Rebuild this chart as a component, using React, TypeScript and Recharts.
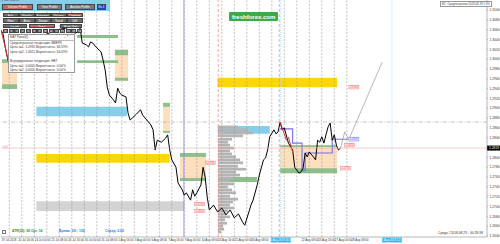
import React from "react";
import {
  ComposedChart,
  Line,
  XAxis,
  YAxis,
  ReferenceArea,
  ReferenceLine,
  Scatter,
} from "recharts";

// H4 bar index (t) and close price (p)
const closes = [
  { t: 0, p: 1.3059 }, { t: 1, p: 1.3051 }, { t: 2, p: 1.3025 }, { t: 3, p: 1.3004 }, { t: 4, p: 1.2988 },
  { t: 7, p: 1.3008 }, { t: 12, p: 1.3029 }, { t: 16, p: 1.3039 }, { t: 21, p: 1.3049 }, { t: 26, p: 1.3059 },
  { t: 31, p: 1.3063 }, { t: 34, p: 1.3055 }, { t: 36, p: 1.3053 }, { t: 38, p: 1.3063 }, { t: 39, p: 1.3033 },
  { t: 41, p: 1.3029 }, { t: 42, p: 1.3025 }, { t: 43, p: 1.3035 }, { t: 44, p: 1.3033 }, { t: 46, p: 1.3023 },
  { t: 48, p: 1.3015 }, { t: 49, p: 1.2998 }, { t: 50, p: 1.2978 }, { t: 51, p: 1.2943 }, { t: 52, p: 1.2927 },
  { t: 54, p: 1.2917 }, { t: 55, p: 1.2911 }, { t: 56, p: 1.2941 }, { t: 57, p: 1.2931 }, { t: 58, p: 1.2927 },
  { t: 60, p: 1.2923 }, { t: 61, p: 1.289 }, { t: 62, p: 1.2876 }, { t: 63, p: 1.288 }, { t: 65, p: 1.2888 },
  { t: 67, p: 1.2897 }, { t: 68, p: 1.2886 }, { t: 70, p: 1.2876 }, { t: 72, p: 1.2866 }, { t: 73, p: 1.2856 },
  { t: 74, p: 1.2815 }, { t: 75, p: 1.2835 }, { t: 77, p: 1.2831 }, { t: 79, p: 1.2839 }, { t: 80, p: 1.2846 },
  { t: 81, p: 1.2815 }, { t: 82, p: 1.2795 }, { t: 84, p: 1.278 }, { t: 85, p: 1.2748 }, { t: 87, p: 1.2734 },
  { t: 88, p: 1.2723 }, { t: 89, p: 1.2728 }, { t: 91, p: 1.2713 }, { t: 92, p: 1.2734 }, { t: 93, p: 1.2721 },
  { t: 94, p: 1.2728 }, { t: 96, p: 1.2744 }, { t: 97, p: 1.278 }, { t: 98, p: 1.276 }, { t: 99, p: 1.2719 },
  { t: 100, p: 1.2693 }, { t: 102, p: 1.2703 }, { t: 104, p: 1.2689 }, { t: 106, p: 1.2697 }, { t: 108, p: 1.2683 },
  { t: 110, p: 1.2693 }, { t: 112, p: 1.2677 }, { t: 114, p: 1.2685 }, { t: 116, p: 1.2668 }, { t: 117, p: 1.2662 },
  { t: 119, p: 1.2689 }, { t: 120, p: 1.2703 }, { t: 121, p: 1.2713 }, { t: 123, p: 1.2744 }, { t: 124, p: 1.2764 },
  { t: 126, p: 1.2795 }, { t: 127, p: 1.2799 }, { t: 128, p: 1.2815 }, { t: 129, p: 1.2842 }, { t: 131, p: 1.2856 },
  { t: 132, p: 1.2848 }, { t: 133, p: 1.2852 }, { t: 134, p: 1.2872 }, { t: 135, p: 1.2856 }, { t: 136, p: 1.286 },
  { t: 138, p: 1.2829 }, { t: 140, p: 1.2815 }, { t: 141, p: 1.278 }, { t: 143, p: 1.2768 }, { t: 144, p: 1.277 },
  { t: 145, p: 1.2778 }, { t: 146, p: 1.2809 }, { t: 147, p: 1.2801 }, { t: 148, p: 1.2811 }, { t: 150, p: 1.2801 },
  { t: 151, p: 1.2795 }, { t: 152, p: 1.2835 }, { t: 153, p: 1.2831 }, { t: 154, p: 1.2842 }, { t: 155, p: 1.2829 },
  { t: 156, p: 1.2846 }, { t: 157, p: 1.2862 }, { t: 158, p: 1.287 }, { t: 159, p: 1.2835 }, { t: 160, p: 1.2846 },
  { t: 161, p: 1.2825 }, { t: 162, p: 1.2815 }, { t: 163, p: 1.2819 },
];

// forecast path drawn after the last bar
const forecast = [
  { t: 163, p: 1.2819 }, { t: 165, p: 1.2852 }, { t: 167, p: 1.2837 }, { t: 183, p: 1.2994 },
];

// red zigzag pieces
const zigzagA = [{ t: 0, p: 1.3059 }, { t: 2, p: 1.3025 }, { t: 4, p: 1.2988 }];
const zigzagB = [{ t: 134, p: 1.2872 }, { t: 137, p: 1.2835 }, { t: 138, p: 1.2841 }, { t: 140, p: 1.2811 }];

// blue step line
const stepLine = [
  { t: 134, p: 1.2858 }, { t: 140, p: 1.2858 }, { t: 140, p: 1.2829 }, { t: 144.5, p: 1.2829 },
  { t: 144.5, p: 1.2774 }, { t: 146, p: 1.2774 }, { t: 146, p: 1.2809 }, { t: 159, p: 1.2809 },
  { t: 159, p: 1.2837 }, { t: 166.6, p: 1.2837 },
];

// flat zones
const blueZones = [
  { from: 17, to: 60.5, hi: 1.2903, lo: 1.2884 },
  { from: 104, to: 129, hi: 1.2864, lo: 1.2848 },
];
const goldZones = [
  { from: 17, to: 81, hi: 1.2807, lo: 1.2789 },
  { from: 104, to: 161.3, hi: 1.2962, lo: 1.2943 },
];
const grayZones = [{ from: 17, to: 88, hi: 1.2711, lo: 1.2691 }];
const greenStrips = [
  { from: 36.5, to: 56.2, hi: 1.3049, lo: 1.3043 },
  { from: 36.5, to: 56.2, hi: 1.2998, lo: 1.2992 },
  { from: 104.2, to: 122.9, hi: 1.276, lo: 1.275 },
];
// boxes with edges: hi/lo outer, hiEdge/loEdge inner
const boxes = [
  { from: 0.5, to: 7.7, hi: 1.3, hiEdge: 1.2992, loEdge: 1.2949, lo: 1.2939 },
  { from: 54.7, to: 61, hi: 1.3019, hiEdge: 1.3008, loEdge: 1.2962, lo: 1.2956 },
  { from: 77.8, to: 81.1, hi: 1.2911, hiEdge: 1.2903, loEdge: 1.2854, lo: 1.285 },
  { from: 85.9, to: 98.4, hi: 1.2809, hiEdge: 1.2801, loEdge: 1.2758, lo: 1.2752 },
  { from: 134, to: 161.3, hi: 1.2825, hiEdge: 1.2821, loEdge: 1.2778, lo: 1.2768 },
];

// volume profile starting at bar 104.2
const profileStart = 104.2;
const profileLevels = [
  1.2862, 1.2856, 1.285, 1.2844, 1.2837, 1.2831, 1.2825, 1.2819, 1.2813, 1.2807, 1.2801, 1.2795,
  1.2789, 1.2782, 1.2776, 1.277, 1.2764, 1.2758, 1.2752, 1.2746, 1.274, 1.2734, 1.2728, 1.2721,
  1.2715, 1.2709, 1.2703, 1.2697, 1.2691, 1.2685, 1.2679, 1.2673, 1.2666, 1.266, 1.2654, 1.2648,
];
const profileVol = [
  20, 30, 35, 25, 14, 10, 12, 16, 12, 14, 18, 22, 25, 20, 28, 18, 22, 15, 12, 16, 10, 14, 18, 12,
  20, 15, 12, 16, 10, 8, 12, 7, 9, 5, 6, 3,
];

// price tags
const tags = [
  { t: 98, p: 1.2789, text: "1.2789", blue: false },
  { t: 93, p: 1.2705, text: "1.2705", blue: false },
  { t: 93, p: 1.2691, text: "1.2691", blue: false },
  { t: 167, p: 1.2943, text: "1.2943", blue: false },
  { t: 165, p: 1.2825, text: "1.2825", blue: false },
  { t: 163, p: 1.2778, text: "1.2778", blue: false },
  { t: 167, p: 1.2837, text: "1.2837", blue: true },
];

// vertical markers
const markers = [
  { t: 87.8, kind: "blue" },
  { t: 104.3, kind: "red" },
  { t: 133.6, kind: "red" },
  { t: 134.3, kind: "cyan", label: "20 Aug 2018 16:00" },
  { t: 187.7, kind: "cyan", label: "31 Aug 2018 12:00" },
];

const currentPrice = 1.2819;
const pivotLevel = 1.2872;

// 1.2820 sits under the current price box
const priceTicks = [
  1.31, 1.308, 1.306, 1.304, 1.302, 1.3, 1.298, 1.296, 1.294, 1.292, 1.29, 1.288,
  1.286, 1.284, 1.28, 1.278, 1.276, 1.274, 1.272, 1.27, 1.268, 1.266, 1.264,
];
// the ticks at bars 128 and 136 sit under the cyan date box
const timeTicks = [0, 8, 16, 24, 32, 40, 48, 56, 64, 72, 80, 88, 96, 104, 112, 120, 144, 152, 160, 168];
const timeLabels = [
  "19 Jul 2018", "20 Jul 16:00", "24 Jul 00:00", "25 Jul 08:00", "26 Jul 16:00", "30 Jul 00:00",
  "31 Jul 08:00", "1 Aug 16:00", "3 Aug 00:00", "6 Aug 08:00", "7 Aug 16:00", "9 Aug 00:00",
  "10 Aug 08:00", "13 Aug 16:00", "15 Aug 00:00", "16 Aug 08:00",
  "22 Aug 08:00", "23 Aug 16:00", "27 Aug 00:00", "28 Aug 08:00",
];
// day separators
const daySeps = Array.from({ length: 28 }, (_, k) => 4 + 6 * k);

const FONT = "'Liberation Sans', Arial, sans-serif";
const PEACH = "#FDDFBE";
const GREEN = "#8DBF8B";

const XTick = (props: any) => {
  const { x, y, payload } = props;
  const i = timeTicks.indexOf(payload.value);
  return (
    <text x={x + 0.5} y={y + 3.6} fontSize={2.9} fill="#333" fontFamily={FONT} textAnchor="start">
      {timeLabels[i]}
    </text>
  );
};

const YTick = (props: any) => {
  const { x, y, payload } = props;
  return (
    <text x={x} y={y + 1.2} fontSize={3.3} fill="#333" fontFamily={FONT} textAnchor="start">
      {payload.value.toFixed(4)}
    </text>
  );
};

const TagShape = (props: any) => {
  const { cx, cy, payload } = props;
  const stroke = payload.blue ? "#6A6AF0" : "#F06A6A";
  const fill = payload.blue ? "#E4E4FF" : "#FFE2E2";
  return (
    <g>
      <rect x={cx} y={cy - 1.8} width={10} height={3.6} fill={fill} stroke={stroke} strokeWidth={0.4} />
      <text x={cx + 5} y={cy + 1} fontSize={2.6} textAnchor="middle" fill={stroke} fontFamily={FONT}>
        {payload.text}
      </text>
    </g>
  );
};

const CurrentTag = (props: any) => {
  const { viewBox } = props;
  const x = viewBox.x + viewBox.width;
  return (
    <g>
      <rect x={x} y={viewBox.y - 2.5} width={13} height={5} fill="#000" />
      <text x={x + 2} y={viewBox.y + 1.2} fontSize={3.3} fill="#fff" fontFamily={FONT}>
        {currentPrice.toFixed(4)}
      </text>
    </g>
  );
};

const DateTag = (text: string) => (props: any) => {
  const { viewBox } = props;
  const y = viewBox.y + viewBox.height + 0.6;
  return (
    <g>
      <rect x={viewBox.x - 10} y={y} width={20} height={4.8} fill="#29B6F6" />
      <text x={viewBox.x} y={y + 3.5} fontSize={2.8} fill="#fff" textAnchor="middle" fontFamily={FONT}>
        {text}
      </text>
    </g>
  );
};

const markerStyle: Record<string, any> = {
  blue: { stroke: "#8C8CFF", strokeWidth: 0.8 },
  red: { stroke: "#FF8080", strokeWidth: 0.7, strokeDasharray: "3 2" },
  cyan: { stroke: "#7FD6F5", strokeWidth: 0.7, strokeDasharray: "1 1" },
};

const txt: React.CSSProperties = {
  position: "absolute",
  fontFamily: FONT,
  whiteSpace: "nowrap",
  lineHeight: 1,
};

const Btn = ({ x, y, w, h, bg, label }: any) => (
  <div
    style={{
      ...txt,
      left: x,
      top: y,
      width: w,
      height: h,
      background: bg,
      color: "#fff",
      fontSize: 3,
      lineHeight: `${h}px`,
      textAlign: "center",
      overflow: "hidden",
      boxSizing: "border-box",
      border: "0.5px solid #444",
    }}
  >
    {label}
  </div>
);

const Panel = () => {
  const rowA = ["Rels", "Weekly", "Extremes", "Volume", "Conform"];
  const rowB = ["Hour", "Area", "Zigzag", "Trend", "Diff"];
  const nums = ["1", "2", "3", "4", "5", "6", "7", "8", "9", "10", "11", "12", "13", "14"];
  const lines = [
    "Среднесрочная тенденция: ВВЕРХ",
    "Цель №1: 1.2935  Вероятность: 66.59%",
    "Цель №2: 1.3021  Вероятность: 64.49%",
    "",
    "Внутридневная тенденция: НЕТ",
    "Цель №1: 0.0000  Вероятность: 0.00%",
    "Цель №2: 0.0000  Вероятность: 0.00%",
  ];
  return (
    <>
      <div style={{ position: "absolute", left: 0, top: 0, width: 110, height: 11, background: "#87CEEB" }} />
      <div style={{ ...txt, left: 1, top: 0, fontSize: 2.6, color: "#333" }}>▼ GBPUSD,H4</div>
      <Btn x={2} y={4} w={31} h={5.5} bg="#C86464" label="Volume Profile" />
      <Btn x={37} y={4} w={25} h={5.5} bg="#7A7A7A" label="Time Profile" />
      <Btn x={65} y={4} w={30} h={5.5} bg="#7A7A7A" label="Auction Profile" />
      <Btn x={97} y={4} w={9} h={5.5} bg="#2A3FC0" label="Ex.1" />
      {rowA.map((l, i) => (
        <Btn key={l} x={3 + i * 16} y={12.5} w={15.5} h={4.5} bg={i === 4 ? "#C86464" : "#6E6E6E"} label={l} />
      ))}
      {rowB.map((l, i) => (
        <Btn key={l} x={3 + i * 16} y={18} w={15.5} h={4.5} bg="#6E6E6E" label={l} />
      ))}
      <Btn x={3} y={23.5} w={24} h={4.5} bg="#6E6E6E" label="Levels" />
      <Btn x={29} y={23.5} w={26} h={4.5} bg="#C86464" label="Trace" />
      <Btn x={60} y={23.5} w={22} h={4.5} bg="#6E6E6E" label="Right Side" />
      {nums.map((n, i) => (
        <Btn key={n} x={3 + i * 5.7} y={29} w={5} h={4} bg={i === 0 ? "#C86464" : "#6E6E6E"} label={n} />
      ))}
      <div
        style={{
          position: "absolute",
          left: 8,
          top: 34,
          width: 67,
          height: 39,
          background: "#fff",
          border: "0.5px solid #999",
          boxSizing: "border-box",
        }}
      />
      <div style={{ ...txt, left: 10, top: 35.5, fontSize: 3.2, color: "#333" }}>EA7 Panel(I)</div>
      <div style={{ ...txt, left: 64, top: 35, fontSize: 3.2, color: "#333" }}>_ ×</div>
      <div style={{ position: "absolute", left: 8, top: 39.5, width: 67, height: 0.5, background: "#bbb" }} />
      {lines.map((l, i) => (
        <div key={i} style={{ ...txt, left: 10, top: 41.5 + i * 4.6, fontSize: 3.2, color: "#333" }}>
          {l}
        </div>
      ))}
    </>
  );
};

export default function App() {
  return (
    <div style={{ position: "absolute", left: 0, top: 0, width: 500, height: 244, background: "#fff", overflow: "hidden" }}>
      <ComposedChart width={500} height={244} data={closes} margin={{ top: 0, right: 0, bottom: 0, left: 1 }}>
        <XAxis
          type="number"
          dataKey="t"
          domain={[0, 233.3]}
          ticks={timeTicks}
          interval={0}
          tick={<XTick />}
          height={7}
          tickSize={0}
          tickMargin={0}
          axisLine={{ stroke: "#888", strokeWidth: 0.6 }}
          tickLine={false}
          allowDataOverflow
        />
        <YAxis
          type="number"
          orientation="right"
          domain={[1.2638, 1.31204]}
          ticks={priceTicks}
          interval={0}
          tick={<YTick />}
          width={13}
          tickSize={1}
          tickMargin={1.5}
          axisLine={{ stroke: "#888", strokeWidth: 0.6 }}
          tickLine={{ stroke: "#888", strokeWidth: 0.5 }}
          allowDataOverflow
        />

        {daySeps.map((t) => (
          <ReferenceLine key={`d${t}`} x={t} stroke="#9A9A9A" strokeWidth={0.6} strokeDasharray="2 1.5" />
        ))}

        {blueZones.map((z, i) => (
          <ReferenceArea key={`b${i}`} x1={z.from} x2={z.to} y1={z.lo} y2={z.hi} fill="#87CEEB" fillOpacity={1} stroke="none" />
        ))}
        {goldZones.map((z, i) => (
          <ReferenceArea key={`g${i}`} x1={z.from} x2={z.to} y1={z.lo} y2={z.hi} fill="#FFD700" fillOpacity={1} stroke="none" />
        ))}
        {grayZones.map((z, i) => (
          <ReferenceArea key={`s${i}`} x1={z.from} x2={z.to} y1={z.lo} y2={z.hi} fill="#D3D3D3" fillOpacity={1} stroke="none" />
        ))}
        {boxes.map((z, i) => (
          <ReferenceArea key={`x${i}`} x1={z.from} x2={z.to} y1={z.lo} y2={z.hi} fill={PEACH} fillOpacity={1} stroke="none" />
        ))}
        {boxes.map((z, i) => (
          <ReferenceArea key={`xt${i}`} x1={z.from} x2={z.to} y1={z.hiEdge} y2={z.hi} fill={GREEN} fillOpacity={1} stroke="none" />
        ))}
        {boxes.map((z, i) => (
          <ReferenceArea key={`xb${i}`} x1={z.from} x2={z.to} y1={z.lo} y2={z.loEdge} fill={GREEN} fillOpacity={1} stroke="none" />
        ))}
        {greenStrips.map((z, i) => (
          <ReferenceArea key={`gs${i}`} x1={z.from} x2={z.to} y1={z.lo} y2={z.hi} fill={GREEN} fillOpacity={1} stroke="none" />
        ))}
        {profileLevels.map((lv, i) => (
          <ReferenceArea
            key={`pf${i}`}
            x1={profileStart}
            x2={profileStart + profileVol[i] * 0.48}
            y1={lv - 0.00028}
            y2={lv + 0.00028}
            fill="#B4B4B4"
            fillOpacity={1}
            stroke="none"
          />
        ))}

        <ReferenceLine y={pivotLevel} stroke="#A0A0A0" strokeWidth={0.6} strokeDasharray="4 1.5 1 1.5" />

        {markers.map((m, i) => (
          <ReferenceLine
            key={`m${i}`}
            x={m.t}
            {...markerStyle[m.kind]}
            label={m.label ? DateTag(m.label) : undefined}
          />
        ))}

        <Line data={stepLine} dataKey="p" stroke="#7070F0" strokeWidth={1.1} dot={false} isAnimationActive={false} />
        <Line data={forecast} dataKey="p" stroke="#8A8A8A" strokeWidth={0.6} dot={false} isAnimationActive={false} />
        <Line dataKey="p" stroke="#000" strokeWidth={1} dot={false} isAnimationActive={false} />
        <Line data={zigzagA} dataKey="p" stroke="#E83030" strokeWidth={1} dot={false} isAnimationActive={false} />
        <Line data={zigzagB} dataKey="p" stroke="#E83030" strokeWidth={1} dot={false} isAnimationActive={false} />

        <ReferenceLine y={currentPrice} stroke="#F4A6A6" strokeWidth={0.6} label={<CurrentTag />} />

        <Scatter data={tags} dataKey="p" shape={<TagShape />} isAnimationActive={false} />
      </ComposedChart>

      <Panel />

      <div
        style={{
          ...txt,
          left: 229,
          top: 12,
          padding: "1.5px 3px",
          background: "#3DAA46",
          color: "#fff",
          fontSize: 6,
          fontWeight: "bold",
          borderRadius: 1,
        }}
      >
        freshforex.com
      </div>

      <div style={{ ...txt, left: 3, top: 146, fontSize: 3, color: "#F08080" }}>101</div>

      <div
        style={{
          position: "absolute",
          left: 2,
          top: 230,
          width: 3.5,
          height: 4,
          border: "0.5px solid #777",
          boxSizing: "border-box",
          background: "#fff",
        }}
      />
      <div style={{ ...txt, left: 12, top: 230, fontSize: 3.3, color: "#2E8B3E", fontWeight: "bold" }}>
        ATR(20): 82  Opt: 14
      </div>
      <div style={{ ...txt, left: 59, top: 230, fontSize: 3.3, color: "#1E7BE0", fontWeight: "bold" }}>
        Время: 3/0 : 150
      </div>
      <div style={{ ...txt, left: 105, top: 230, fontSize: 3.3, color: "#1E7BE0", fontWeight: "bold" }}>
        Спред: 2.00
      </div>
      <div style={{ ...txt, left: 438, top: 232, fontSize: 3.3, color: "#333" }}>
        Среда / 2018.08.29 - 00:28:38
      </div>
      <div
        style={{
          ...txt,
          left: 440,
          top: 1,
          fontSize: 2.8,
          color: "#444",
          border: "0.5px solid #999",
          padding: "0.5px 1px",
          background: "#fff",
        }}
      >
        EC: Среднесрочная 2018.08.29 1.9%
      </div>
    </div>
  );
}
